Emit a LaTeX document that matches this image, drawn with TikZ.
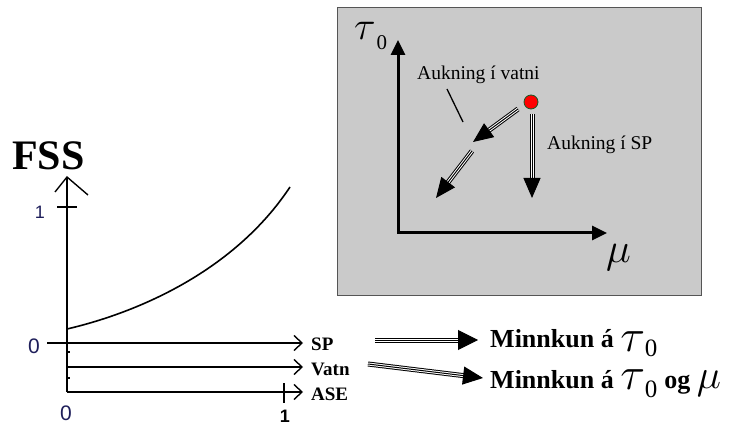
\RequirePackage{fix-cm}
\documentclass[tikz,border=0pt]{standalone}
\usepackage{fontspec}
\setmainfont{Liberation Serif}
\newfontfamily\sansf{Liberation Sans}
\usetikzlibrary{arrows.meta}
\definecolor{boxgray}{RGB}{202,202,202}
\definecolor{boxedge}{RGB}{85,85,85}
\definecolor{numblue}{RGB}{30,30,90}
\definecolor{dotgreen}{RGB}{20,90,40}
\newcommand\gk[2]{\smash{\fontsize{#1}{#1}\selectfont$#2$}}
\newcommand\subz[2]{\smash{\raisebox{-#2}{\fontsize{#1}{#1}\selectfont\mdseries\upshape 0}}}
\newcommand\tripline[3][17pt]{%
  \draw[line width=5pt, shorten >=17pt] (#2) -- (#3);
  \draw[line width=3pt, white, shorten >=17pt] (#2) -- (#3);
  \draw[line width=1pt, -{Triangle[length=20pt,width=#1]}] (#2) -- (#3);}
\begin{document}
\begin{tikzpicture}[x=1pt,y=-1pt,
  ax/.style={line width=1.4pt},
  openhead/.style={-{Straight Barb[length=8pt,width=15pt,line width=1.4pt]}},
  axthick/.style={line width=3pt, line join=miter},
  txt/.style={font=\fontsize{19.5}{22}\selectfont, inner sep=0pt},
  lbl/.style={font=\fontsize{19}{22}\selectfont\bfseries, inner sep=0pt, anchor=base west},
  num/.style={font=\fontsize{21}{24}\selectfont\sansf, text=numblue, inner sep=0pt},
  big/.style={font=\fontsize{26}{30}\selectfont\bfseries, inner sep=0pt, anchor=base west}]
\useasboundingbox[fill=white] (0,0) rectangle (733,427);

% ---------- gray box ----------
\node[draw=boxedge, fill=boxgray, line width=1.2pt, minimum width=364pt, minimum height=288pt, inner sep=0pt, anchor=north west] (box) at (337,7) {};
\coordinate (O) at (398,233);
\coordinate (ytip) at (398,40);
\coordinate (xtip) at (607,233);
\draw[axthick, {Triangle[length=15pt,width=14pt]}-{Triangle[length=15pt,width=14pt]}] (ytip) -- (O) -- (xtip);
\node[inner sep=0pt, anchor=base west] (tau) at (354,40) {\gk{40}{\tau}\kern1pt\subz{21}{10pt}};
\node[inner sep=0pt, anchor=base west] (mu) at (606,263) {\gk{42}{\mu}};

\node[txt, anchor=base west] (vatni) at (417,80) {Aukning í vatni};
\node[txt, anchor=base west] (sp) at (547,150) {Aukning í SP};
\coordinate (p1) at (447,89);
\coordinate (p2) at (463,122);
\draw[line width=1.3pt] (p1) -- (p2);

\coordinate (a1s) at (518,109);
\coordinate (a1e) at (473,142);
\coordinate (a2s) at (472,151);
\coordinate (a2e) at (436,198);
\coordinate (a3s) at (532,114);
\coordinate (a3e) at (532,198);
\tripline{a1s}{a1e}
\tripline{a2s}{a2e}
\tripline{a3s}{a3e}
\node[circle, fill=red, draw=dotgreen, line width=0.8pt, minimum size=14pt, inner sep=0pt] (dot) at (531,102) {};

% ---------- left graph ----------
\node[inner sep=0pt, anchor=base west, font=\fontsize{42}{46}\selectfont\bfseries] (fss) at (12,170) {FSS};
\coordinate (yb) at (67,392);
\coordinate (yt) at (67,177);
\draw[ax] (yb) -- (yt);
\draw[ax] (55,192) -- (yt) -- (88,195);
\draw[ax] (57,207) -- (77,207);
\node[num, font=\fontsize{18}{20}\selectfont\sansf] (one) at (40,212) {1};
\draw[line width=1.6pt] (67,329) .. controls (140,312) and (235,270) .. (290,187);

\coordinate (spl) at (47,343);
\coordinate (spr) at (303,343);
\coordinate (val) at (67,367);
\coordinate (var) at (303,367);
\coordinate (asl) at (67,392);
\coordinate (asr) at (303,392);
\draw[ax, openhead] (spl) -- (spr);
\draw[ax, openhead] (val) -- (var);
\draw[ax, openhead] (asl) -- (asr);
\draw[line width=1.6pt] (67,352) -- (70,352);
\draw[line width=1.6pt] (67,378) -- (70,378);
\draw[ax] (284,383) -- (284,403);
\node[num] (zl) at (34,346) {0};
\node[num] (zb) at (66,413) {0};
\node[inner sep=0pt, font=\fontsize{18}{20}\selectfont\sansf\bfseries] (oneb) at (285,416) {1};

\node[lbl] (lsp) at (311,350) {SP};
\node[lbl] (lva) at (311,375) {Vatn};
\node[lbl] (las) at (311,400) {ASE};

% ---------- bottom arrows & text ----------
\coordinate (b1s) at (375,340);
\coordinate (b1e) at (478,340);
\coordinate (b2s) at (368,364);
\coordinate (b2e) at (483,378);
\tripline[20pt]{b1s}{b1e}
\tripline[18pt]{b2s}{b2e}
\node[big] (m1) at (490,348) {Minnkun á \raisebox{-3pt}{\gk{46}{\tau}}\subz{25}{9pt}};
\node[big] (m2) at (490,388) {Minnkun á \raisebox{-1pt}{\gk{46}{\tau}}\subz{25}{9pt}\hspace{7pt}og \gk{41}{\mu}};
\end{tikzpicture}
\end{document}
